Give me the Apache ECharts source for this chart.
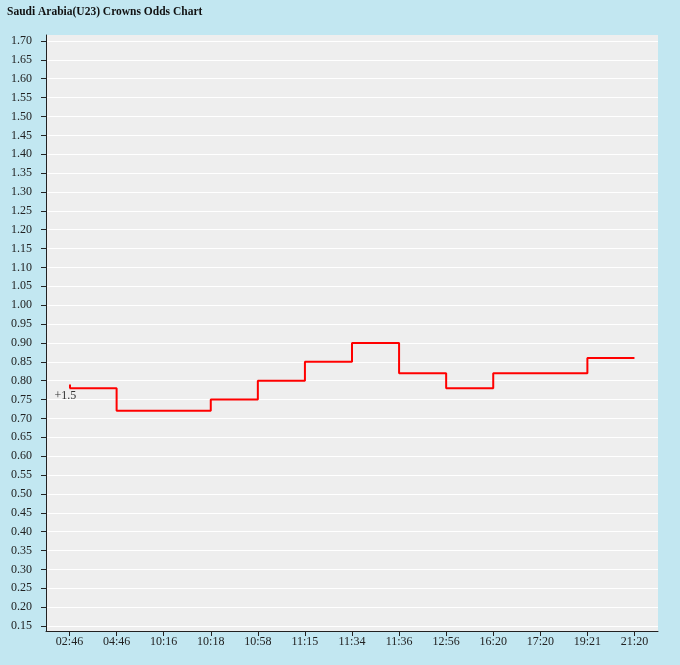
<!DOCTYPE html>
<html>
<head>
<meta charset="utf-8">
<script src="https://cdn.jsdelivr.net/npm/echarts@6/dist/echarts.min.js"></script>
<style>
html,body{margin:0;padding:0;background:#c2e7f1;}
#main{width:680px;height:665px;}
</style>
</head>
<body>
<div id="main"></div>
<script>
const titleText = 'Saudi Arabia(U23) Crowns Odds Chart';
const categories = ['02:46','04:46','10:16','10:18','10:58','11:15','11:34','11:36','12:56','16:20','17:20','19:21','21:20'];
const odds = [0.78,0.72,0.72,0.75,0.80,0.85,0.90,0.82,0.78,0.82,0.82,0.86,0.86];
const openingStub = [0.79, 0.78];
const startLabel = '+1.5';
const yMin = 0.15, yMax = 1.70, yStep = 0.05;

const font = '"Liberation Serif", "DejaVu Serif", serif';
const chart = echarts.init(document.getElementById('main'));
const seriesData = odds.map((v, i) => i === 0 ? {
  value: v,
  label: {show: true, formatter: startLabel, position: [-15, 2], fontFamily: font, fontSize: 12, color: '#333'}
} : v);

chart.setOption({
  backgroundColor: '#c2e7f1',
  animation: false,
  title: {
    text: titleText, left: 2, top: 1,
    textStyle: {fontFamily: font, fontSize: 11.5, fontWeight: 'bold', color: '#111'}
  },
  grid: [
    {left: 46, right: 22, top: 41, bottom: 39, containLabel: false},
    {left: 46, right: 22, top: 35, bottom: 34, show: true, backgroundColor: '#eeeeee', borderWidth: 0, z: -1}
  ],
  xAxis: [
    {
      gridIndex: 0, type: 'category', data: categories, boundaryGap: true, offset: 5,
      axisLine: {show: false},
      axisTick: {show: true, alignWithLabel: true, length: 5, lineStyle: {color: '#222'}},
      axisLabel: {fontFamily: font, fontSize: 12, color: '#222', margin: 5, interval: 0},
      splitLine: {show: false}
    },
    {
      gridIndex: 1, type: 'value', min: 0, max: 1,
      axisLine: {show: true, lineStyle: {color: '#222', width: 1}},
      axisTick: {show: false}, axisLabel: {show: false}, splitLine: {show: false}
    }
  ],
  yAxis: [
    {
      gridIndex: 0, type: 'value', min: yMin, max: yMax, interval: yStep,
      axisLine: {show: false},
      axisTick: {show: true, length: 5, lineStyle: {color: '#222'}},
      axisLabel: {fontFamily: font, fontSize: 12, color: '#222', margin: 14, formatter: v => v.toFixed(2)},
      splitLine: {show: true, lineStyle: {color: '#ffffff', width: 1}}
    },
    {
      gridIndex: 1, type: 'value', min: 0, max: 1,
      axisLine: {show: true, lineStyle: {color: '#222', width: 1}},
      axisTick: {show: false}, axisLabel: {show: false}, splitLine: {show: false}
    }
  ],
  series: [{
    type: 'line', xAxisIndex: 0, yAxisIndex: 0,
    data: seriesData, step: 'end',
    showSymbol: true, symbol: 'circle', symbolSize: 0,
    lineStyle: {color: '#ff0000', width: 2},
    itemStyle: {color: '#ff0000'},
    markLine: {
      silent: true, symbol: ['none', 'none'], label: {show: false},
      lineStyle: {color: '#ff0000', width: 2, type: 'solid'},
      data: [[{coord: [categories[0], openingStub[0]]}, {coord: [categories[0], openingStub[1]]}]]
    },
    z: 5
  }]
});
</script>
</body>
</html>
